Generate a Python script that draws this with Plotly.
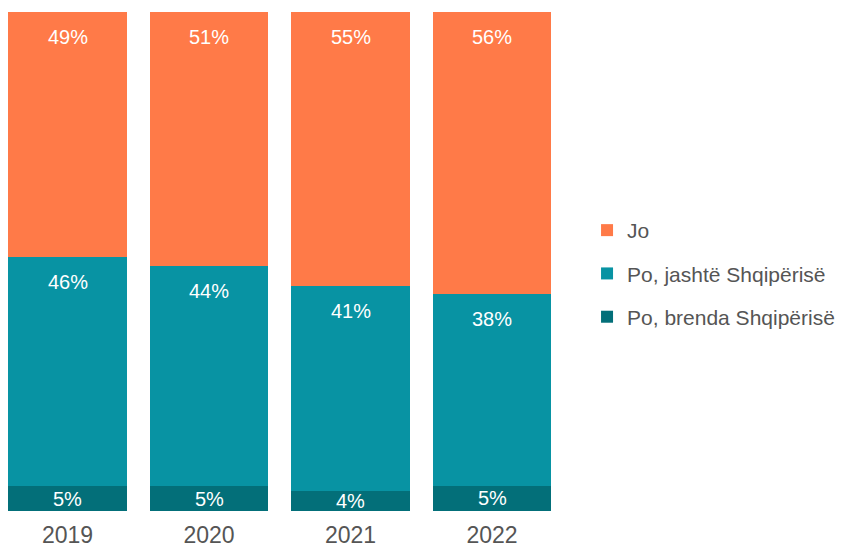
import plotly.graph_objects as go

years = ['2019', '2020', '2021', '2022']
series_names = ['Po, brenda Shqipërisë', 'Po, jashtë Shqipërisë', 'Jo']
brenda = [5, 5, 4, 5]
jashte = [46, 44, 41, 38]
jo = [49, 51, 55, 56]
colors = ['#036F79', '#0893A3', '#FF7A48']

series = [brenda, jashte, jo]
totals = [sum(v) for v in zip(*series)]
norm = [[v / t * 100 for v, t in zip(s, totals)] for s in series]

fig = go.Figure()
for k, (name, vals, col) in enumerate(zip(series_names, norm, colors)):
    fig.add_trace(go.Bar(
        x=years, y=vals, name=name, marker=dict(color=col, line=dict(width=0)),
        legendgroup=name, legendrank=1000 - k
    ))

# value labels
base = [0] * len(years)
for i, (raw, vals) in enumerate(zip(series, norm)):
    for j, (r, v) in enumerate(zip(raw, vals)):
        top = base[j] + v
        if i == 0:
            y, shift = base[j] + v / 2, 0
        else:
            y, shift = top, -25
        fig.add_annotation(x=j, y=y, yshift=shift, text=f'{r}%',
                           showarrow=False, font=dict(size=20, color='white'))
        base[j] = top

fig.update_layout(
    barmode='stack',
    bargap=0.16,
    width=852, height=548,
    margin=dict(l=0, r=292, t=4, b=45),
    plot_bgcolor='white', paper_bgcolor='white',
    font=dict(family='Liberation Sans, Arial, sans-serif', color='#555555'),
    xaxis=dict(type='category', range=[-0.4205, 3.537], showgrid=False,
               showline=False, ticks='', ticklabelstandoff=8,
               tickfont=dict(size=23, color='#555555')),
    yaxis=dict(range=[0, 100], visible=False),
    legend=dict(x=1.034, y=0.476, yanchor='middle', xanchor='left',
                font=dict(size=21, color='#555555'), tracegroupgap=13,
                traceorder='grouped'),
)

fig.write_html('out.html')
